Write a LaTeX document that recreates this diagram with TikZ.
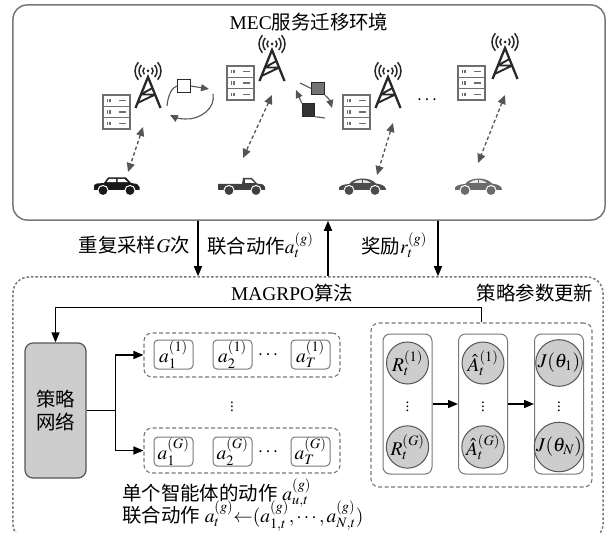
\documentclass[tikz,border=0pt]{standalone}
\usepackage{mathptmx}
\usepackage{fontspec}
\setmainfont{Liberation Serif}
\newfontfamily\zhfont{Noto Sans CJK SC}
\newcommand{\zh}[1]{{\zhfont #1}}
\usetikzlibrary{arrows.meta, positioning}
\definecolor{edgegray}{RGB}{120,120,120}
\definecolor{nodegray}{RGB}{205,205,205}
\definecolor{icongray}{RGB}{85,85,85}
\definecolor{towerdark}{RGB}{40,40,40}
\definecolor{srvgray}{RGB}{110,110,110}

% icons for the scene (y grows downwards)
\tikzset{
  pics/tower/.style={code={
    \draw[towerdark, line width=2.3bp, line join=miter] (-12.5,31) -- (0,0) -- (12.5,31);
    \draw[towerdark, line width=1.9bp] (-7.3,17.5) -- (7.3,17.5) (-10.5,26) -- (7.3,17.5) (-7.3,17.5) -- (4.5,11);
    \fill[towerdark] (0,-6) circle (1.5bp);
    \foreach \r in {5,9,13} {
      \draw[towerdark, line width=1.5bp] (0,-6) ++(42:\r) arc[start angle=42, end angle=-42, radius=\r];
      \draw[towerdark, line width=1.5bp] (0,-6) ++(138:\r) arc[start angle=138, end angle=222, radius=\r];
    }
  }},
  pics/server/.style={code={
    \foreach \k in {0,1,2} {
      \draw[srvgray, line width=1.4bp, fill=white] (0,{\k*11.4}) rectangle (27,{\k*11.4+11.4});
      \draw[srvgray, line width=1.3bp] (4.5,{\k*11.4+4}) -- ++(0,3.4) (7,{\k*11.4+4}) -- ++(0,3.4)
        (16,{\k*11.4+5.7}) -- (22.5,{\k*11.4+5.7});
    }
  }},
  pics/suv/.style={code={
    \fill[#1] (1,-5) -- (1,-10) -- (4,-11.5) -- (11,-12) -- (15,-17.5) -- (33,-17.5) -- (38,-12)
      -- (44,-11) -- (46.5,-8) -- (46.5,-5) -- cycle;
    \fill[white] (16,-16) -- (23,-16) -- (23,-12.8) -- (13.5,-12.8) -- cycle
      (24.5,-16) -- (31.5,-16) -- (35,-12.8) -- (24.5,-12.8) -- cycle;
    \foreach \wx in {10,37} {\fill[white] (\wx,-4.5) circle (5.6bp); \fill[#1] (\wx,-4.5) circle (4.4bp);}
  }},
  pics/pickup/.style={code={
    \fill[#1] (0,-5) -- (0,-11) -- (24,-11) -- (25,-17) -- (34,-17) -- (39,-11.5) -- (45,-10.5)
      -- (47,-8) -- (47,-5) -- cycle;
    \fill[white] (27,-15.5) -- (33,-15.5) -- (36.5,-12) -- (27,-12) -- cycle;
    \foreach \wx in {11,38} {\fill[white] (\wx,-4.5) circle (5.6bp); \fill[#1] (\wx,-4.5) circle (4.4bp);}
  }},
  pics/beetle/.style={code={
    \fill[#1] (1,-5) .. controls (0,-9) and (4,-10.5) .. (11,-11) .. controls (16,-18) and (32,-18.5)
      .. (38,-11.5) .. controls (45,-10.5) and (48,-8.5) .. (48,-5) -- cycle;
    \fill[white!85!#1] (15,-12) .. controls (19,-16.3) and (29,-16.3) .. (33,-12) -- cycle;
    \draw[#1, line width=0.8bp] (24,-16) -- (24,-12);
    \foreach \wx in {11,37} {\fill[white] (\wx,-4.5) circle (5.6bp); \fill[#1] (\wx,-4.5) circle (4.4bp);}
  }},
}

\begin{document}
\begin{tikzpicture}[x=1bp, y=-1bp,
  every node/.style={font=\fontsize{19.5}{23}\selectfont, inner sep=0pt},
  frame/.style={draw=edgegray, line width=1.5bp, rounded corners=14bp},
  algoframe/.style={draw=edgegray, line width=1.5bp, dash pattern=on 2.5bp off 2bp, rounded corners=16bp},
  group/.style={draw=edgegray, line width=1.1bp, dash pattern=on 4bp off 2.5bp, rounded corners=8bp},
  act/.style={draw=edgegray, line width=1bp, rounded corners=4bp, minimum width=39bp, minimum height=29bp},
  col/.style={draw=edgegray, line width=1bp, rounded corners=7bp, minimum width=49bp, minimum height=140bp},
  val/.style={circle, draw=icongray, line width=1bp, fill=nodegray, minimum size=42bp},
  netbox/.style={draw=icongray, line width=1.2bp, fill=nodegray, rounded corners=8bp,
    minimum width=61bp, minimum height=135bp, align=center},
  vdot/.style={font=\fontsize{15}{15}\selectfont},
  arr/.style={line width=1.4bp, -{Triangle[length=10bp, width=8bp]}},
  link/.style={icongray, line width=1.3bp, dash pattern=on 3.5bp off 2.5bp, <->, >={Triangle[length=9bp, width=8bp]}},
  pkt/.style={icongray, line width=1.1bp, -{Triangle[length=8bp, width=7bp]}},
  packet/.style={draw=towerdark, line width=1bp, minimum size=12.5bp}]
  \useasboundingbox (0,0) rectangle (608,533);

  % MEC environment
  \node[frame, minimum width=592bp, minimum height=215bp] (env) at (309,112.5) {};
  \node (envtitle) at (309,22) {MEC\zh{服务迁移环境}};

  \foreach \sx/\sy/\tx/\ty in {103/95/148/77, 227/66/272/50, 343/95/388/77, 458/66/505/48} {
    \pic at (\sx,\sy) {server};
    \pic at (\tx,\ty) {tower};
  }
  \pic at (93,195) {suv={black!90}};
  \pic at (218,195) {pickup={black!75}};
  \pic at (338,195) {beetle={black!70}};
  \pic at (454,195) {beetle={black!58}};
  \node (more) at (427,100) {$\cdots$};

  \draw[link] (143,127) -- (128,172);
  \draw[link] (272,95) -- (243,158);
  \draw[link] (393,123) -- (377,175);
  \draw[link] (505,95) -- (478,163);

  % service migration between servers
  \node[packet, fill=white] (p1) at (184,86) {};
  \draw[icongray, line width=1.1bp] (167,106) .. controls (168,95) and (172,87) .. (p1.west);
  \draw[pkt] (p1.east) -- (209,89);
  \draw[pkt] (213,94) .. controls (216,108) and (200,120) .. (185,119) .. controls (179,119) and (174,117) .. (170,115);

  \node[packet, fill=black!55] (p2) at (318,88.5) {};
  \node[packet, fill=black!80] (p3) at (308.5,110) {};
  \draw[icongray, line width=1.1bp] (300,83) -- (p2.west);
  \draw[pkt] (p2.south east) .. controls (328,97) and (330,101) .. (332,108);
  \draw[icongray, line width=1.1bp] (p3.south east) -- (325,118);
  \draw[pkt] (p3.north west) -- (296,90);

  % MAGRPO
  \node[algoframe, minimum width=590bp, minimum height=263bp] (algo) at (308,408.5) {};
  \coordinate (xsample) at (198,0);
  \coordinate (xjoint) at (328,0);
  \coordinate (xreward) at (438,0);
  \draw[arr] (env.south -| xsample) -- (algo.north -| xsample);
  \draw[arr] (algo.north -| xjoint) -- (env.south -| xjoint);
  \draw[arr] (env.south -| xreward) -- (algo.north -| xreward);
  \node[anchor=east] (lsample) at (190,245) {\zh{重复采样}$G$\zh{次}};
  \node[anchor=west] (ljoint) at (207,245) {\zh{联合动作}$a_t^{(g)}$};
  \node[anchor=west] (lreward) at (361,245) {\zh{奖励}$r_t^{(g)}$};

  \node (algtitle) at (292,293) {MAGRPO\zh{算法}};
  \node (updtitle) at (535,293) {\zh{策略参数更新}};

  \node[netbox] (net) at (55.5,410.5) {\zh{策略}\\\zh{网络}};

  \node[group, minimum width=196bp, minimum height=44bp] (traj1) at (242,355) {};
  \node[act] (a11) at (173.5,354.5) {$a_1^{(1)}$};
  \node[act, right=19bp of a11] (a21) {$a_2^{(1)}$};
  \node[act] (aT1) at (310.5,354.5) {$a_T^{(1)}$};
  \node (dots1) at (268,355) {$\cdots$};

  \node[group, minimum width=196bp, minimum height=45bp] (trajG) at (242,450.5) {};
  \node[act] (a1G) at (173.5,451.5) {$a_1^{(G)}$};
  \node[act, right=19bp of a1G] (a2G) {$a_2^{(G)}$};
  \node[act] (aTG) at (310.5,451.5) {$a_T^{(G)}$};
  \node (dotsG) at (268,452) {$\cdots$};
  \node[vdot] (vdots) at (232,404) {$\vdots$};

  \draw[line width=1.4bp] (net.east) -- ++(29,0) coordinate (fork);
  \draw[arr] (fork) |- (traj1.west);
  \draw[arr] (fork) |- (trajG.west);

  \node[anchor=west] (single) at (122,493) {\zh{单个智能体的动作} $a_{u,t}^{(g)}$};
  \node[anchor=west] (joint) at (122,516) {\zh{联合动作} $a_t^{(g)}{\leftarrow}(a_{1,t}^{(g)},\cdots,a_{N,t}^{(g)})$};

  % returns, advantages, objectives
  \node[group, minimum width=221bp, minimum height=164bp] (upd) at (481.5,405) {};
  \foreach \c/\x in {ret/407.5, adv/483, obj/559} \node[col] (\c) at (\x,404) {};
  \node[val] (ret1) at (407.5,363) {$R_t^{(1)}$};
  \node[val] (retG) at (407.5,447) {$R_t^{(G)}$};
  \node[val] (adv1) at (483,363) {$\hat{A}_t^{(1)}$};
  \node[val] (advG) at (483,447) {$\hat{A}_t^{(G)}$};
  \node[val] (obj1) at (559,363) {$J(\theta_1)$};
  \node[val] (objN) at (559,447) {$J(\theta_N)$};
  \foreach \x in {407.5, 483, 559} \node[vdot] at (\x,404) {$\vdots$};
  \draw[arr] (ret.east) -- (adv.west);
  \draw[arr] (adv.east) -- (obj.west);

  \draw[arr] (upd.north) -- ++(0,-15) -| (net.north);
\end{tikzpicture}
\end{document}
